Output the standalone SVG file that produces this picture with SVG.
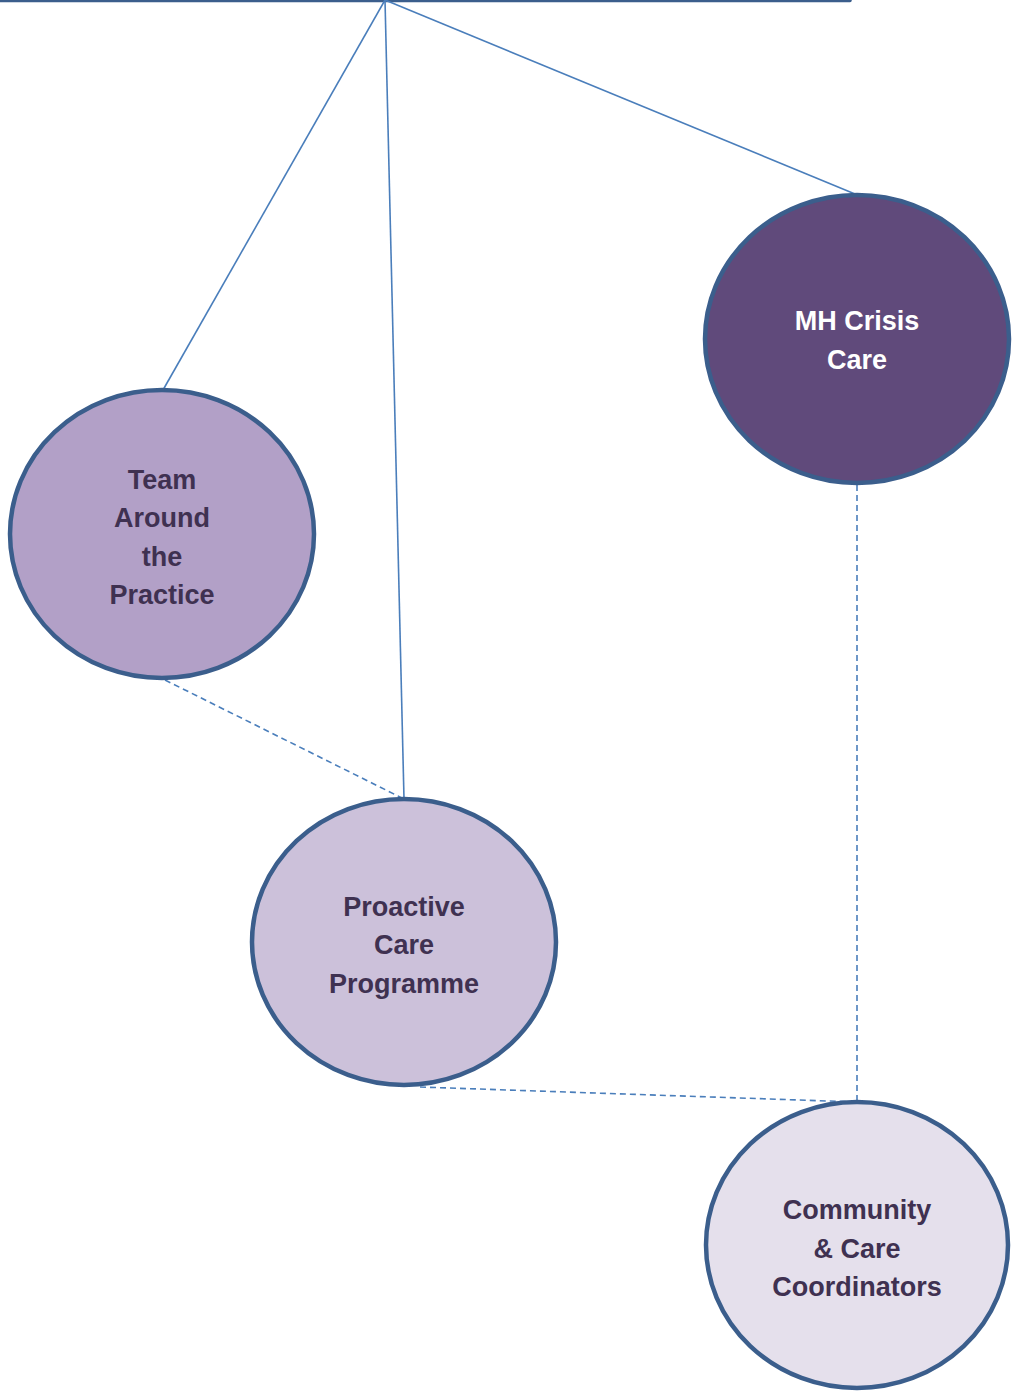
<svg xmlns="http://www.w3.org/2000/svg" width="1013" height="1393" viewBox="0 0 1013 1393">
<style>
.node ellipse{stroke:#3b5e8c;stroke-width:4.5}
.lbl{font-family:"Liberation Sans",Arial,sans-serif;font-weight:bold;font-size:27px;text-anchor:middle;fill:#3f3151}
.lbl.w{fill:#ffffff}
.solid{stroke:#4a7ebb;stroke-width:1.6;fill:none}
.dash{stroke:#4a7ebb;stroke-width:1.6;fill:none;stroke-dasharray:6 4}
</style>
<rect width="1013" height="1393" fill="#ffffff"/>
<g id="connectors">
<line class="top" x1="0" y1="0.5" x2="850" y2="0.5" stroke="#3b5e8c" stroke-width="3.5" stroke-linecap="round"/>
<line class="solid" x1="385" y1="0" x2="163" y2="390"/>
<line class="solid" x1="385" y1="0" x2="404" y2="799"/>
<line class="solid" x1="385" y1="0" x2="855" y2="194"/>
<line class="dash" x1="165" y1="680" x2="404" y2="799"/>
<line class="dash" x1="857" y1="485" x2="857" y2="1102"/>
<line class="dash" x1="420" y1="1087" x2="857" y2="1102"/>
</g>
<g id="team" class="node">
<ellipse cx="162" cy="534" rx="152" ry="144" fill="#b2a0c7"/>
<text class="lbl" x="162" y="489">Team</text>
<text class="lbl" x="162" y="527">Around</text>
<text class="lbl" x="162" y="566">the</text>
<text class="lbl" x="162" y="604">Practice</text>
</g>
<g id="mh" class="node">
<ellipse cx="857" cy="339" rx="152" ry="144" fill="#604a7b"/>
<text class="lbl w" x="857" y="330">MH Crisis</text>
<text class="lbl w" x="857" y="369">Care</text>
</g>
<g id="proactive" class="node">
<ellipse cx="404" cy="942" rx="152" ry="143" fill="#ccc1da"/>
<text class="lbl" x="404" y="916">Proactive</text>
<text class="lbl" x="404" y="954">Care</text>
<text class="lbl" x="404" y="993">Programme</text>
</g>
<g id="community" class="node">
<ellipse cx="857" cy="1245" rx="151" ry="143" fill="#e5e0ec"/>
<text class="lbl" x="857" y="1219">Community</text>
<text class="lbl" x="857" y="1258">&amp; Care</text>
<text class="lbl" x="857" y="1296">Coordinators</text>
</g>
</svg>
